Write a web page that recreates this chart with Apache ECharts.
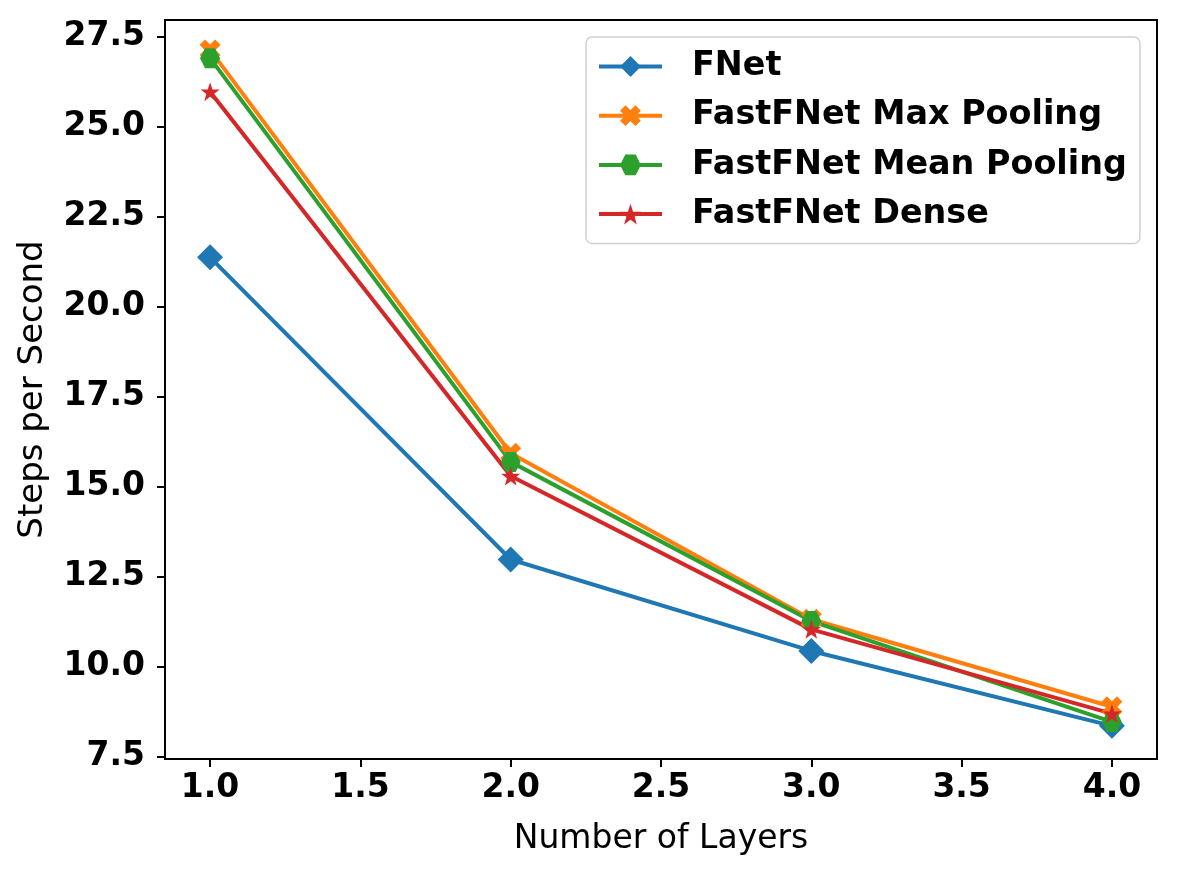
<!DOCTYPE html>
<html><head><meta charset="utf-8">
<script src="https://cdn.jsdelivr.net/npm/echarts@6/dist/echarts.min.js"></script>
<style>html,body{margin:0;padding:0;background:#fff}#c{width:1178px;height:875px}</style>
</head><body><div id="c"></div>
<script>
const layers = [1, 2, 3, 4];
const fnet = [21.37, 12.98, 10.44, 8.36];
const maxPool = [27.13, 15.93, 11.32, 8.89];
const meanPool = [26.90, 15.69, 11.27, 8.47];
const dense = [25.97, 15.30, 11.04, 8.70];
const seriesNames = ['FNet', 'FastFNet Max Pooling', 'FastFNet Mean Pooling', 'FastFNet Dense'];
const xTicks = [1.0, 1.5, 2.0, 2.5, 3.0, 3.5, 4.0];
const yTicks = [7.5, 10.0, 12.5, 15.0, 17.5, 20.0, 22.5, 25.0, 27.5];

const colors = ['#1f77b4', '#ff7f0e', '#2ca02c', '#d62728'];
const symX = 'path://M0,2.6 L2.6,0 L5,2.4 L7.4,0 L10,2.6 L7.6,5 L10,7.4 L7.4,10 L5,7.6 L2.6,10 L0,7.4 L2.4,5 Z';
const symHex = 'path://M2.5,0.67 L7.5,0.67 L10,5 L7.5,9.33 L2.5,9.33 L0,5 Z';
const symStar = 'path://M50,0 L61.8,35.1 L98.1,34.5 L69.1,56.7 L79.4,90.5 L50,70 L20.6,90.5 L30.9,56.7 L1.9,34.5 L38.2,35.1 Z';
const symbols = ['diamond', symX, symHex, symStar];
const sizes = [26, 21, 20, 19];
const values = [fnet, maxPool, meanPool, dense];

const chart = echarts.init(document.getElementById('c'), null, {renderer: 'canvas'});
const fam = 'DejaVu Sans';
chart.setOption({
  animation: false,
  backgroundColor: '#fff',
  grid: {left: 165, right: 21, top: 20, bottom: 116, show: true, borderColor: '#000', borderWidth: 2, backgroundColor: 'transparent'},
  xAxis: {
    type: 'value', min: 0.85, max: 4.15,
    name: 'Number of Layers', nameLocation: 'middle', nameGap: 64,
    nameTextStyle: {fontFamily: fam, fontSize: 33, color: '#000'},
    axisLine: {show: true, lineStyle: {color: '#000', width: 2}},
    axisTick: {show: true, length: 8, lineStyle: {color: '#000', width: 2}, customValues: xTicks},
    axisLabel: {fontFamily: fam, fontWeight: 'bold', fontSize: 33, color: '#000', margin: 13,
      customValues: xTicks, formatter: v => v.toFixed(1)},
    splitLine: {show: false}
  },
  yAxis: {
    type: 'value', min: 7.44, max: 27.96,
    name: 'Steps per Second', nameLocation: 'middle', nameGap: 115,
    nameTextStyle: {fontFamily: fam, fontSize: 34, color: '#000'},
    axisLine: {show: true, lineStyle: {color: '#000', width: 2}},
    axisTick: {show: true, length: 8, lineStyle: {color: '#000', width: 2}, customValues: yTicks},
    axisLabel: {fontFamily: fam, fontWeight: 'bold', fontSize: 33, color: '#000', margin: 20,
      customValues: yTicks, formatter: v => v.toFixed(1)},
    splitLine: {show: false}
  },
  legend: {
    orient: 'vertical', left: 586, top: 37,
    padding: [13, 13, 13, 11],
    itemWidth: 63, itemHeight: 26, itemGap: 16.2,
    borderColor: '#d0d0d0', borderWidth: 1.5, borderRadius: 6,
    backgroundColor: 'rgba(255,255,255,0.8)',
    lineStyle: {width: 4},
    textStyle: {fontFamily: fam, fontWeight: 'bold', fontSize: 33.4, color: '#000', padding: [0, 0, 0, 25]},
    data: seriesNames
  },
  series: seriesNames.map((n, i) => ({
    name: n, type: 'line',
    data: layers.map((x, j) => [x, values[i][j]]),
    symbol: symbols[i], symbolSize: sizes[i], showAllSymbol: true,
    lineStyle: {color: colors[i], width: 4},
    itemStyle: {color: colors[i]},
    emphasis: {disabled: true}
  }))
});
</script></body></html>
